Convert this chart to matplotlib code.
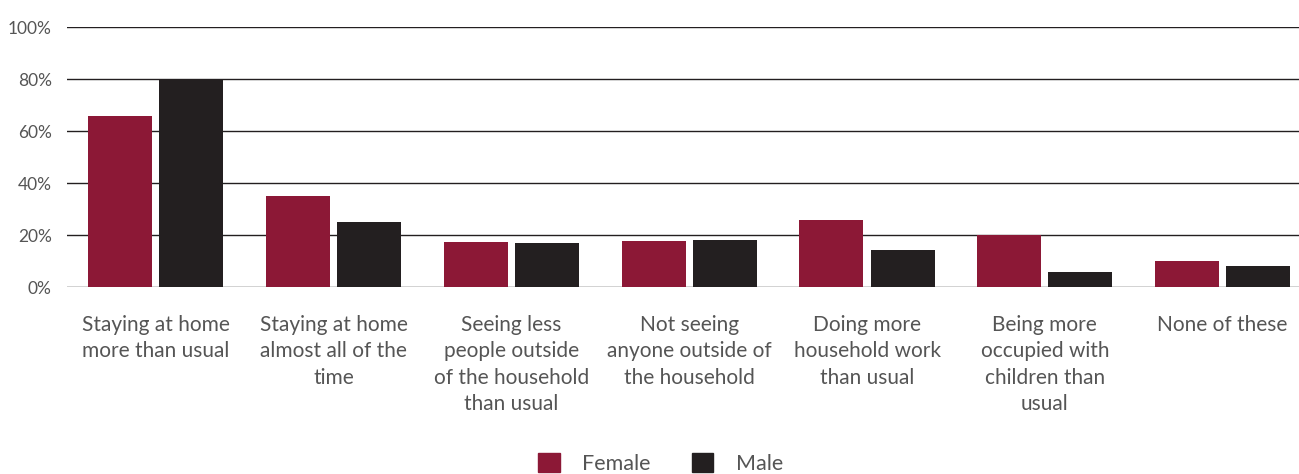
import matplotlib
matplotlib.use("Agg")
import matplotlib.pyplot as plt
from matplotlib.patches import Patch
import numpy as np

categories = [
    "Staying at home\nmore than usual",
    "Staying at home\nalmost all of the\ntime",
    "Seeing less\npeople outside\nof the household\nthan usual",
    "Not seeing\nanyone outside of\nthe household",
    "Doing more\nhousehold work\nthan usual",
    "Being more\noccupied with\nchildren than\nusual",
    "None of these",
]
female = [66, 35, 17.4, 17.8, 26, 20, 10]
male = [80, 25, 17, 18.2, 14.3, 6, 8]
yticks = [0, 20, 40, 60, 80, 100]
ytick_labels = ["0%", "20%", "40%", "60%", "80%", "100%"]

FEMALE_C = "#8C1836"
MALE_C = "#231F20"
TEXT_C = "#555555"

plt.rcParams['font.family'] = ['Lato', 'DejaVu Sans']

fig = plt.figure(figsize=(12.99, 4.74), dpi=100)
ax = fig.add_axes([67/1299, 0.394, 1 - 67/1299, 0.548])

x = np.arange(len(categories))
w = 0.36
off = 0.2
ax.bar(x - off, female, width=w, color=FEMALE_C, zorder=3)
ax.bar(x + off, male, width=w, color=MALE_C, zorder=3)

ax.set_ylim(0, 100)
ax.set_xlim(-0.5, 6.43)
ax.set_yticks(yticks)
ax.set_yticklabels(ytick_labels, color=TEXT_C, fontsize=12.5)
ax.tick_params(axis='y', length=0, pad=11)
ax.yaxis.grid(True, color="#231F20", linewidth=1.0, zorder=0)
ax.set_axisbelow(True)
for s in ax.spines.values():
    s.set_visible(False)

ax.set_xticks(x)
ax.set_xticklabels(categories, color=TEXT_C, fontsize=15, linespacing=1.4, va='top')
ax.tick_params(axis='x', length=0, pad=20)

handles = [Patch(color=FEMALE_C, label="Female"), Patch(color=MALE_C, label="Male")]
leg = fig.legend(handles=handles, loc='center', bbox_to_anchor=(0.5085, 0.022), ncol=2,
                 frameon=False, fontsize=15.5, handlelength=1.0, handleheight=1.0,
                 handletextpad=1.05, columnspacing=1.9)
for t in leg.get_texts():
    t.set_color(TEXT_C)

fig.savefig("out.png", dpi=100)
